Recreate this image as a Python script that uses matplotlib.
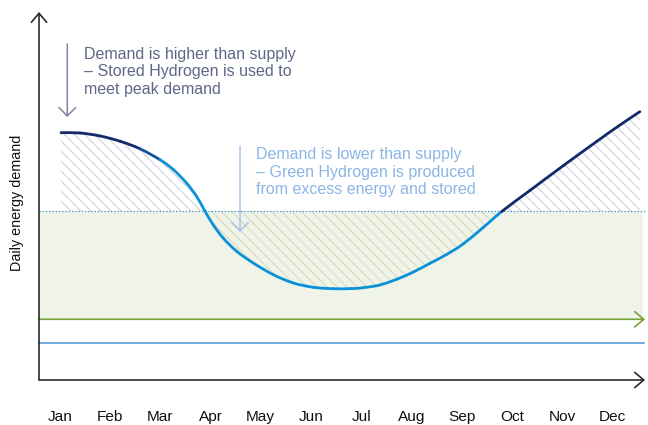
import numpy as np
import matplotlib
matplotlib.use("Agg")
import matplotlib.pyplot as plt
from matplotlib.path import Path
from matplotlib.patches import PathPatch
from matplotlib.colors import to_rgb

plt.rcParams['font.family'] = ['Liberation Sans', 'DejaVu Sans']
plt.rcParams['hatch.linewidth'] = 0.67

# month labels along the x axis (0 = Jan)
month_labels = ['Jan', 'Feb', 'Mar', 'Apr', 'May', 'Jun',
                'Jul', 'Aug', 'Sep', 'Oct', 'Nov', 'Dec']

# daily demand curve (x in months from Jan, arbitrary units)
demand_month = [0.02, 0.40, 0.80, 1.20, 1.59, 1.99, 2.26, 2.52, 2.72, 2.89,
                3.05, 3.25, 3.52, 3.85, 4.25, 4.65, 5.05, 5.44, 5.80, 6.04,
                6.37, 6.71, 7.04, 7.37, 7.70, 8.03, 8.43, 8.80, 9.36, 10.03,
                10.69, 11.12, 11.55]
demand_value = [24.73, 24.70, 24.40, 23.87, 23.13, 22.03, 21.03, 19.70, 18.37, 16.87,
                15.53, 14.20, 12.87, 11.70, 10.53, 9.70, 9.27, 9.13, 9.14, 9.23,
                9.50, 10.08, 10.80, 11.67, 12.55, 13.60, 15.25, 16.85, 18.95, 21.45,
                23.85, 25.38, 26.83]

supply_level = 16.9      # dotted line, renewable supply
green_level = 6.07       # green arrow line
blue_level = 3.67        # blue line

NAVY = '#13296b'
BRIGHT = '#0a92d8'

# dpi 120 so the hatch spacing comes out near 10px
fig = plt.figure(figsize=(5.4, 425 / 120), dpi=120)
ax = fig.add_axes([0, 0, 1, 1])
ax.set_xlim(-1.195, 11.713)
ax.set_ylim(-4.5, 38)
ax.axis('off')

x_left, x_right = -0.418, 11.653
months = np.array(demand_month)
demand = np.array(demand_value)

# green band under supply line
ax.fill_between([x_left, 11.614], green_level, supply_level, color='#eff3e8', lw=0, zorder=1)

# hatched areas between demand and supply
ax.fill_between(months, demand, supply_level, where=demand >= supply_level, interpolate=True,
                facecolor='none', edgecolor='#cfd1db', hatch='\\\\\\\\', lw=0, zorder=2)
ax.fill_between(months, demand, supply_level, where=demand <= supply_level, interpolate=True,
                facecolor='none', edgecolor='#d5dcbc', hatch='\\\\\\\\', lw=0, zorder=2)

ax.plot([x_left, x_right], [supply_level, supply_level], color='#3a8fd0',
        lw=0.75, ls=(0, (1, 1.6)), zorder=3)

# green and blue horizontal lines
ax.annotate('', xy=(x_right, green_level), xytext=(x_left, green_level),
            arrowprops=dict(arrowstyle='->,head_length=5.4,head_width=4.6', color='#76a035',
                            lw=1.0, shrinkA=0, shrinkB=0, mutation_scale=1), zorder=3)
ax.plot([x_left, 11.633], [blue_level, blue_level], color='#4a93d8', lw=0.92, zorder=3)

# demand curve drawn as smooth bezier pieces through the read points,
# navy where demand is high, bright blue otherwise
pts = np.column_stack([months, demand])
padded = np.vstack([pts[:1], pts, pts[-1:]])
navy, bright = np.array(to_rgb(NAVY)), np.array(to_rgb(BRIGHT))
for i in range(len(pts) - 1):
    p0, p1, p2, p3 = padded[i], padded[i + 1], padded[i + 2], padded[i + 3]
    c1 = p1 + (p2 - p0) / 6
    c2 = p2 - (p3 - p1) / 6
    mid = (p1[0] + p2[0]) / 2
    w = np.clip((2.05 - mid) / 0.45, 0, 1)
    if mid > 8.8:
        w = 1
    col = w * navy + (1 - w) * bright
    seg = Path([p1, c1, c2, p2], [Path.MOVETO, Path.CURVE4, Path.CURVE4, Path.CURVE4])
    ax.add_patch(PathPatch(seg, facecolor='none', edgecolor=col, lw=1.67,
                           capstyle='round', zorder=4))

# axes with open arrow heads
axis_arrow = dict(arrowstyle='->,head_length=5.4,head_width=4.6', color='#2b2b2b',
                  lw=1.0, shrinkA=0, shrinkB=0, mutation_scale=1)
ax.annotate('', xy=(x_left, 36.8), xytext=(x_left, 0), arrowprops=axis_arrow, zorder=5)
ax.annotate('', xy=(x_right, 0), xytext=(x_left, 0), arrowprops=axis_arrow, zorder=5)

for i, lab in enumerate(month_labels):
    ax.text(i, -3.7, lab, ha='center', va='center', fontsize=9.2, color='#111111')

ax.text(-0.857, 17.75, 'Daily energy demand', rotation=90, ha='center', va='center',
        fontsize=8.6, color='#111111')

# annotations
ax.annotate('', xy=(0.145, 26.3), xytext=(0.145, 33.6),
            arrowprops=dict(arrowstyle='->,head_length=5,head_width=5', color='#7f84a0',
                            lw=0.92, shrinkA=0, shrinkB=0, mutation_scale=1), zorder=5)
ax.text(0.478, 33.35, 'Demand is higher than supply\n\u2013 Stored Hydrogen is used to\nmeet peak demand',
        ha='left', va='top', fontsize=9.6, color='#5e6789', linespacing=1.21)

ax.annotate('', xy=(3.586, 14.8), xytext=(3.586, 23.4),
            arrowprops=dict(arrowstyle='->,head_length=5,head_width=5', color='#a3c5ec',
                            lw=0.92, shrinkA=0, shrinkB=0, mutation_scale=1), zorder=5)
ax.text(3.904, 23.3, 'Demand is lower than supply\n\u2013 Green Hydrogen is produced\nfrom excess energy and stored',
        ha='left', va='top', fontsize=9.6, color='#8ab6e6', linespacing=1.21)

fig.savefig('out.png', dpi=120)
